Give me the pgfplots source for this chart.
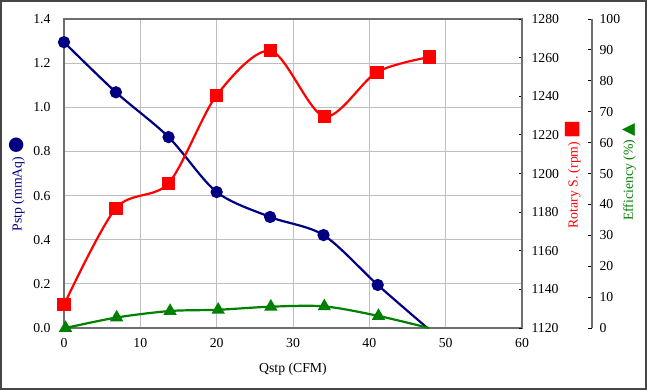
\documentclass[border=0pt]{standalone}
\usepackage{fontspec}
\setmainfont{Liberation Serif}
\newfontfamily\sym{DejaVu Sans}
\usepackage{pgfplots}
\pgfplotsset{compat=1.18}
\definecolor{pblue}{RGB}{0,0,128}
\definecolor{pred}{RGB}{255,0,0}
\definecolor{pgreen}{RGB}{0,128,0}
\definecolor{gridc}{RGB}{190,190,190}
\definecolor{axc}{RGB}{110,110,110}
\definecolor{framec}{RGB}{70,70,70}
\pgfplotsset{
  every axis/.append style={font=\fontsize{13.8}{16}\selectfont},
  /pgf/number format/assume math mode=true,
  /pgf/number format/set thousands separator={},
}
\begin{document}
\begin{tikzpicture}
\draw[line width=1.6bp, framec] (0.8bp,0.8bp) rectangle (646.2bp,389.2bp);
% main axis: Pstp
\begin{axis}[
  at={(64bp,62bp)}, anchor=south west, scale only axis,
  width=458bp, height=309bp,
  xmin=0, xmax=60, ymin=0, ymax=1.4,
  xtick={0,10,20,30,40,50,60},
  ytick={0,0.2,0.4,0.6,0.8,1.0,1.2,1.4},
  grid=major, major grid style={gridc, line width=0.8bp},
  axis line style={axc, line width=1.2bp},
  tick style={draw=none},
  yticklabel style={xshift=-10bp, /pgf/number format/.cd, fixed, fixed zerofill, precision=1},
  xticklabel style={yshift=-7bp},
  xlabel={Qstp (CFM)},
  xlabel style={at={(axis description cs:0.5,0)}, anchor=center, yshift=-41bp},
]
\addplot[pblue, line width=2.2bp, smooth, mark=*, mark size=5bp,
  mark indices={1,2,3,4,5,6,7}, mark options={solid, fill=pblue}]
  coordinates {(0,1.295) (6.8,1.068) (13.7,0.865) (20.0,0.616) (27.0,0.503) (34.0,0.421) (41.1,0.195) (47.6,0.0)};
\end{axis}
% rpm axis
\begin{axis}[
  at={(64bp,62bp)}, anchor=south west, scale only axis,
  width=458bp, height=309bp,
  xmin=0, xmax=60, ymin=1120, ymax=1280,
  axis x line=none, axis y line*=right,
  ytick={1120,1140,1160,1180,1200,1220,1240,1260,1280},
  yticklabel style={xshift=6bp},
  tick align=inside, major tick length=3bp,
  ytick style={black, line width=0.8bp},
  axis line style={axc, line width=1.2bp},
]
\addplot[pred, line width=2.2bp, smooth, mark=square*, mark size=5.5bp, mark options={solid, fill=pred}]
  coordinates {(0,1132) (6.8,1182) (13.7,1195) (20.0,1240.5) (27.1,1263.5) (34.1,1229.5) (41.0,1252.5) (47.9,1260.3)};
\end{axis}
% efficiency axis
\begin{axis}[
  at={(64bp,62bp)}, anchor=south west, scale only axis,
  width=528bp, height=309bp,
  xmin=0, xmax=69.17, ymin=0, ymax=100,
  axis x line=none, axis y line*=right,
  ytick={0,10,20,30,40,50,60,70,80,90,100},
  yticklabel style={xshift=4bp},
  tick align=inside, major tick length=4bp,
  ytick style={black, line width=0.8bp},
  axis line style={axc, line width=1.2bp},
  clip=false,
]
\addplot[pgreen, line width=2.2bp, smooth, mark=triangle*, mark size=5.5bp,
  mark indices={1,2,3,4,5,6,7}, mark options={solid, fill=pgreen}]
  coordinates {(0.2,0) (6.9,3.4) (13.9,5.5) (20.2,5.9) (27.1,6.9) (34.1,7.0) (41.2,3.9) (47.8,0)};
\end{axis}
\node[rotate=90, text=pblue, font=\fontsize{13.8}{16}\selectfont] at (17bp,206bp) {Pstp (mmAq) {\sym\fontsize{19}{16}\selectfont ●}};
\node[rotate=90, text=pred, font=\fontsize{13.8}{16}\selectfont] at (573bp,215.5bp) {Rotary S. (rpm) {\sym\fontsize{19}{16}\selectfont ■}};
\node[rotate=90, text=pgreen, font=\fontsize{13.8}{16}\selectfont] at (629bp,218bp) {Efficiency (\%) {\sym\fontsize{17}{16}\selectfont ▲}};
\end{tikzpicture}
\end{document}
